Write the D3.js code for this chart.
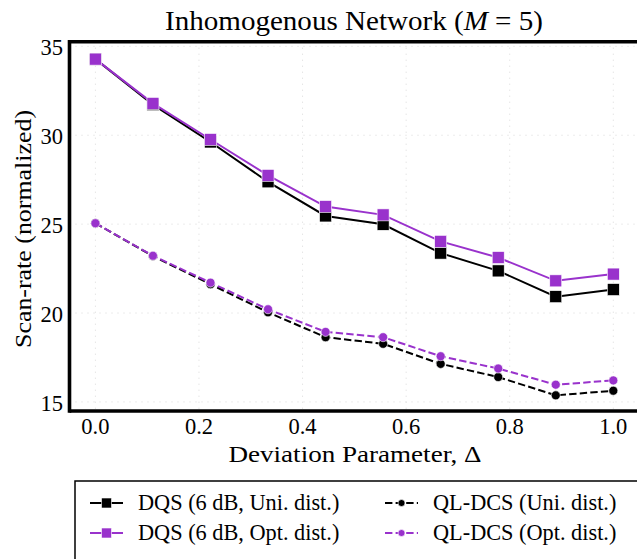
<!DOCTYPE html>
<html>
<head>
<meta charset="utf-8">
<script src="https://cdn.jsdelivr.net/npm/d3@7"></script>
<style>
  body { margin: 0; background: #fff; }
  svg text { font-family: "Liberation Serif", "DejaVu Serif", serif; fill: #000; }
</style>
</head>
<body>
<div id="chart"></div>
<script>
// deviation parameter values (10 points, 0..1)
var deltas = [0, 1/9, 2/9, 3/9, 4/9, 5/9, 6/9, 7/9, 8/9, 1];

var dqsUni = [34.28, 31.72, 29.62, 27.38, 25.46, 24.99, 23.37, 22.37, 20.92, 21.32];
var dqsOpt = [34.28, 31.79, 29.76, 27.74, 25.99, 25.52, 24.03, 23.12, 21.81, 22.19];
var qlUni = [25.05, 23.2, 21.62, 20.04, 18.64, 18.27, 17.14, 16.4, 15.37, 15.63];
var qlOpt = [25.05, 23.22, 21.71, 20.21, 18.94, 18.64, 17.57, 16.88, 15.97, 16.21];

var xTicks = [0, 0.2, 0.4, 0.6, 0.8, 1.0];
var yTicks = [15, 20, 25, 30, 35];

var series = [
  {name: "DQS (6 dB, Uni. dist.)", vals: dqsUni, color: "#000000", marker: "square", dash: null},
  {name: "DQS (6 dB, Opt. dist.)", vals: dqsOpt, color: "#9932cc", marker: "square", dash: null},
  {name: "QL-DCS (Uni. dist.)", vals: qlUni, color: "#000000", marker: "circle", dash: "7.4,3.2"},
  {name: "QL-DCS (Opt. dist.)", vals: qlOpt, color: "#9932cc", marker: "circle", dash: "7.4,3.2"}
];

var width = 637, height = 559;

var svg = d3.select("#chart").append("svg")
  .attr("width", width)
  .attr("height", height)
  .style("font-family", "'Liberation Serif', 'DejaVu Serif', serif");

var x = d3.scaleLinear().domain([-0.05, 1.05]).range([69.5, 639.2]);
var y = d3.scaleLinear().domain([14.49, 35.26]).range([411, 41.7]);

// grid
var grid = svg.append("g");
grid.selectAll("line.gx").data(xTicks).enter().append("line")
  .attr("x1", d => x(d)).attr("x2", d => x(d))
  .attr("y1", y.range()[1]).attr("y2", y.range()[0])
  .attr("stroke", "#d9d9d9").attr("stroke-width", 1).attr("stroke-dasharray", "1,5");
grid.selectAll("line.gy").data(yTicks).enter().append("line")
  .attr("y1", d => y(d)).attr("y2", d => y(d))
  .attr("x1", x.range()[0]).attr("x2", x.range()[1])
  .attr("stroke", "#d9d9d9").attr("stroke-width", 1).attr("stroke-dasharray", "1,5");

// lines and markers
var line = d3.line().x((d, i) => x(deltas[i])).y(d => y(d));

function drawMarker(g, type, cx, cy, color, size) {
  if (type == "square") {
    g.append("rect")
      .attr("x", cx - size/2).attr("y", cy - size/2)
      .attr("width", size).attr("height", size)
      .attr("fill", color).attr("stroke", "#fff").attr("stroke-width", 0.6);
  } else {
    g.append("circle")
      .attr("cx", cx).attr("cy", cy).attr("r", size/2)
      .attr("fill", color).attr("stroke", "#fff").attr("stroke-width", 0.6);
  }
}

// draw dashed series first, solid on top
[2, 3, 0, 1].forEach(function(k) {
  var s = series[k];
  var g = svg.append("g");
  g.append("path")
    .datum(s.vals)
    .attr("d", line)
    .attr("fill", "none")
    .attr("stroke", s.color)
    .attr("stroke-width", 2)
    .attr("stroke-dasharray", s.dash);
  s.vals.forEach(function(v, i) {
    drawMarker(g, s.marker, x(deltas[i]), y(v), s.color, s.marker == "square" ? 12 : 9);
  });
});

// spines (left, top, bottom)
var sp = svg.append("g").attr("stroke", "#000").attr("stroke-width", 3.6).attr("fill", "none");
sp.append("line").attr("x1", x.range()[0]).attr("x2", x.range()[0]).attr("y1", y.range()[1] - 1.8).attr("y2", y.range()[0] + 1.8);
sp.append("line").attr("x1", x.range()[0]).attr("x2", x.range()[1]).attr("y1", y.range()[1]).attr("y2", y.range()[1]);
sp.append("line").attr("x1", x.range()[0]).attr("x2", x.range()[1]).attr("y1", y.range()[0]).attr("y2", y.range()[0]);
sp.append("line").attr("x1", x.range()[1]).attr("x2", x.range()[1]).attr("y1", y.range()[1]).attr("y2", y.range()[0]);

// tick labels
svg.append("g").selectAll("text").data(xTicks).enter().append("text")
  .attr("x", d => x(d)).attr("y", 434)
  .attr("text-anchor", "middle")
  .style("font-size", "22.5px")
  .text(d => d3.format(".1f")(d));

svg.append("g").selectAll("text").data(yTicks).enter().append("text")
  .attr("x", 63).attr("y", d => y(d) + 9)
  .attr("text-anchor", "end")
  .style("font-size", "22.5px")
  .text(d => d);

// axis labels
svg.append("text")
  .attr("x", 355).attr("y", 462)
  .attr("text-anchor", "middle")
  .attr("textLength", 253)
  .attr("lengthAdjust", "spacingAndGlyphs")
  .style("font-size", "24px")
  .text("Deviation Parameter, \u0394");

svg.append("text")
  .attr("transform", "translate(31,229) rotate(-90)")
  .attr("text-anchor", "middle")
  .attr("textLength", 238)
  .attr("lengthAdjust", "spacingAndGlyphs")
  .style("font-size", "24px")
  .text("Scan-rate (normalized)");

// title
var title = svg.append("text")
  .attr("x", 354).attr("y", 30)
  .attr("text-anchor", "middle")
  .attr("textLength", 378)
  .attr("lengthAdjust", "spacingAndGlyphs")
  .style("font-size", "26.5px");
title.append("tspan").text("Inhomogenous Network (");
title.append("tspan").style("font-style", "italic").text("M");
title.append("tspan").text(" = 5)");

// legend
var leg = svg.append("g");
leg.append("rect")
  .attr("x", 75).attr("y", 481)
  .attr("width", 600).attr("height", 120)
  .attr("fill", "#fff").attr("stroke", "#000").attr("stroke-width", 1.5);

var legPos = [
  {hx: 90, tx: 138, ty: 503},
  {hx: 90, tx: 138, ty: 533},
  {hx: 385, tx: 433, ty: 503},
  {hx: 385, tx: 433, ty: 533}
];
series.forEach(function(s, i) {
  var p = legPos[i];
  var g = leg.append("g");
  g.append("line")
    .attr("x1", p.hx).attr("x2", p.hx + 33)
    .attr("y1", p.ty).attr("y2", p.ty)
    .attr("stroke", s.color).attr("stroke-width", 2)
    .attr("stroke-dasharray", s.dash);
  drawMarker(g, s.marker, p.hx + 16.5, p.ty, s.color, s.marker == "square" ? 10 : 7);
  g.append("text")
    .attr("x", p.tx).attr("y", p.ty + 7)
    .style("font-size", "22.3px")
    .text(s.name);
});
</script>
</body>
</html>
